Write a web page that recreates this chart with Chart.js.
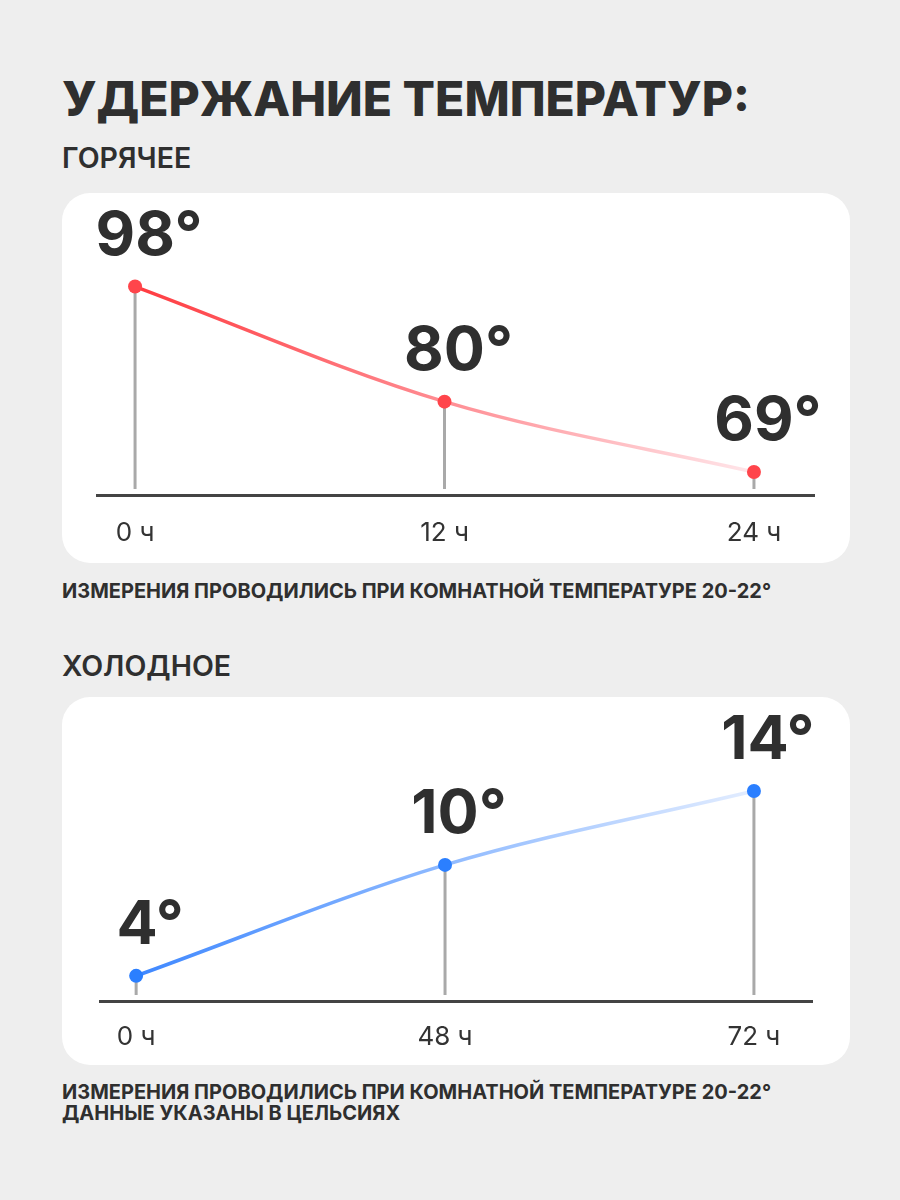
<!DOCTYPE html>
<html lang="ru">
<head>
    <meta charset="UTF-8">
    <title>Удержание температур</title>
    <script src="https://cdn.jsdelivr.net/npm/chart.js"></script>
    <style>
        html, body {
            margin: 0;
            padding: 0;
        }
        body {
            width: 900px;
            height: 1200px;
            background: #eeeeee;
            font-family: Inter, "Noto Sans", sans-serif;
            color: #2f2f2f;
            position: relative;
            overflow: hidden;
        }
        .txt {
            position: absolute;
            left: 62px;
            white-space: nowrap;
            line-height: 1;
        }
        h1.txt {
            margin: 0;
            top: 75px;
            font-size: 48px;
            font-weight: 800;
        }
        .sub {
            font-size: 28.5px;
            font-weight: 600;
        }
        .note {
            font-size: 20px;
            font-weight: 700;
            line-height: 21px;
        }
        .card {
            position: absolute;
            left: 62px;
            width: 788px;
            background: #ffffff;
            border-radius: 28px;
        }
        .card canvas {
            display: block;
        }
    </style>
</head>
<body>

<h1 class="txt">УДЕРЖАНИЕ ТЕМПЕРАТУР:</h1>
<div class="txt sub" style="top:144px;">ГОРЯЧЕЕ</div>
<div class="card" style="top:193px; height:370px;">
    <canvas id="hotChart" width="788" height="370"></canvas>
</div>
<div class="txt note" style="top:581px;">ИЗМЕРЕНИЯ ПРОВОДИЛИСЬ ПРИ КОМНАТНОЙ ТЕМПЕРАТУРЕ 20-22°</div>

<div class="txt sub" style="top:652px;">ХОЛОДНОЕ</div>
<div class="card" style="top:697px; height:368px;">
    <canvas id="coldChart" width="788" height="368"></canvas>
</div>
<div class="txt note" style="top:1082px;">ИЗМЕРЕНИЯ ПРОВОДИЛИСЬ ПРИ КОМНАТНОЙ ТЕМПЕРАТУРЕ 20-22°<br>ДАННЫЕ УКАЗАНЫ В ЦЕЛЬСИЯХ</div>

<script>
    // hot drink: temperature after N hours
    const hotLabels = ['0 ч', '12 ч', '24 ч'];
    const hotTemps = [98, 80, 69];

    // cold drink
    const coldLabels = ['0 ч', '48 ч', '72 ч'];
    const coldTemps = [4, 10, 14];

    // vertical drop lines under points + big value labels
    const markersPlugin = {
        id: 'markers',
        beforeDatasetsDraw(chart) {
            const ctx = chart.ctx;
            const meta = chart.getDatasetMeta(0);
            const bottom = chart.chartArea.bottom - 6;
            ctx.save();
            ctx.strokeStyle = '#a9a9a9';
            ctx.lineWidth = 3;
            meta.data.forEach(pt => {
                ctx.beginPath();
                ctx.moveTo(pt.x, pt.y);
                ctx.lineTo(pt.x, bottom);
                ctx.stroke();
            });
            ctx.restore();
        },
        afterDatasetsDraw(chart) {
            const ctx = chart.ctx;
            const meta = chart.getDatasetMeta(0);
            const values = chart.data.datasets[0].data;
            ctx.save();
            ctx.fillStyle = '#2f2f2f';
            ctx.font = '700 61px Inter, sans-serif';
            ctx.textAlign = 'center';
            ctx.textBaseline = 'middle';
            meta.data.forEach((pt, i) => {
                ctx.fillText(values[i].y + '°', pt.x + 14, pt.y - 50);
            });
            ctx.restore();
        }
    };

    function lineGradient(context, stops) {
        const chart = context.chart;
        if (!chart.chartArea) return stops[0][1];
        const x0 = chart.scales.x.getPixelForValue(0);
        const x1 = chart.scales.x.getPixelForValue(2);
        const g = chart.ctx.createLinearGradient(x0, 0, x1, 0);
        stops.forEach(s => g.addColorStop(s[0], s[1]));
        return g;
    }

    function makeChart(id, labels, temps, opts) {
        return new Chart(document.getElementById(id), {
            type: 'line',
            data: {
                datasets: [{
                    data: temps.map((t, i) => ({ x: i, y: t })),
                    borderColor: ctx => lineGradient(ctx, opts.stops),
                    borderWidth: 3.5,
                    cubicInterpolationMode: 'monotone',
                    pointRadius: 7,
                    pointHoverRadius: 7,
                    pointBackgroundColor: opts.point,
                    pointBorderWidth: 0,
                    fill: false,
                    clip: false
                }]
            },
            options: {
                responsive: false,
                animation: false,
                events: [],
                layout: {
                    padding: { left: opts.padLeft, right: opts.padRight, top: 20, bottom: opts.padBottom }
                },
                plugins: {
                    legend: { display: false },
                    tooltip: { enabled: false }
                },
                scales: {
                    x: {
                        type: 'linear',
                        min: opts.xMin,
                        max: opts.xMax,
                        afterBuildTicks: axis => {
                            axis.ticks = labels.map((l, i) => ({ value: i }));
                        },
                        ticks: {
                            callback: v => labels[v],
                            color: '#333333',
                            padding: opts.tickPad,
                            maxRotation: 0,
                            font: { family: 'Inter', size: 26, weight: '400', lineHeight: 1 }
                        },
                        grid: { display: false, drawTicks: false },
                        border: { display: true, color: '#444444', width: 3 }
                    },
                    y: {
                        display: false,
                        min: opts.yMin,
                        max: opts.yMax
                    }
                }
            },
            plugins: [markersPlugin]
        });
    }

    makeChart('hotChart', hotLabels, hotTemps, {
        stops: [[0, '#ff3b40'], [0.5, '#ff8d93'], [1, '#ffe6ea']],
        point: '#ff454b',
        padLeft: 35, padRight: 36, padBottom: -8, tickPad: 25,
        xMin: -0.123, xMax: 2.194,
        yMin: 65.4, yMax: 109.5
    });

    makeChart('coldChart', coldLabels, coldTemps, {
        stops: [[0, '#3f88ff'], [0.5, '#8fbaff'], [1, '#e3edff']],
        point: '#2b7fff',
        padLeft: 38, padRight: 38, padBottom: -8, tickPad: 23,
        xMin: -0.117, xMax: 2.188,
        yMin: 2.64, yMax: 18.0
    });
</script>

</body>
</html>
